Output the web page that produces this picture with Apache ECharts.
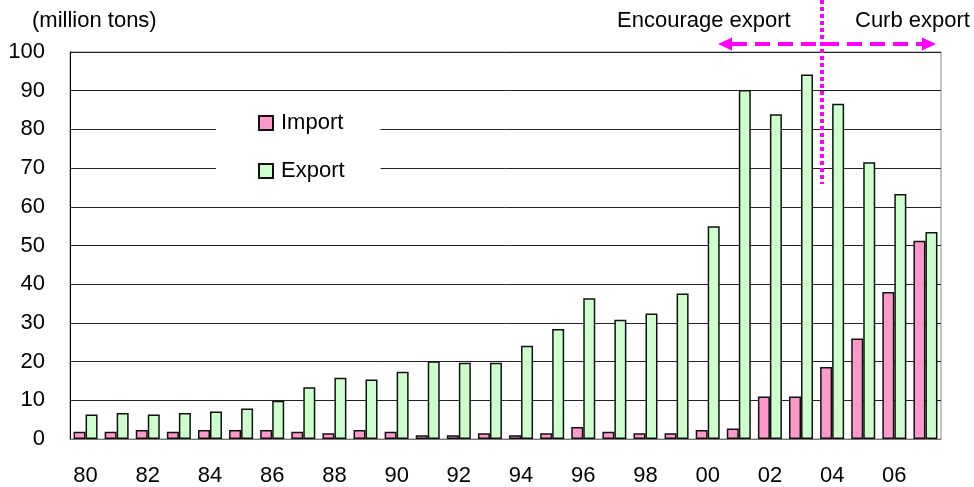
<!DOCTYPE html>
<html>
<head>
<meta charset="utf-8">
<script src="https://cdn.jsdelivr.net/npm/echarts@6/dist/echarts.min.js"></script>
<style>
  html, body { margin: 0; padding: 0; background: #fff; }
  #chart { width: 974px; height: 487px; }
</style>
</head>
<body>
<div id="chart"></div>
<script>
// Years 1980-2007, labelled by two-digit year
const years = ['80','81','82','83','84','85','86','87','88','89','90','91','92','93',
               '94','95','96','97','98','99','00','01','02','03','04','05','06','07'];

// Million tons per year
const importTons = [1.9, 1.9, 2.3, 1.9, 2.3, 2.3, 2.3, 1.9, 1.5, 2.3, 1.9, 1.0, 1.0, 1.5,
                    1.0, 1.5, 3.1, 1.9, 1.5, 1.5, 2.3, 2.7, 11.0, 11.0, 18.6, 26.0, 38.0, 51.2];
const exportTons = [6.3, 6.7, 6.3, 6.7, 7.1, 7.9, 9.9, 13.4, 15.8, 15.4, 17.4, 20.1, 19.7, 19.7,
                    24.1, 28.4, 36.4, 30.8, 32.4, 37.6, 55.0, 90.2, 83.9, 94.2, 86.6, 71.5, 63.3, 53.5];

const yTicks = [0, 100, 10]; // min, max, step

const FONT = '"Liberation Sans", Arial, sans-serif';
const MAGENTA = '#FF00FF';

const chart = echarts.init(document.getElementById('chart'), null, { renderer: 'canvas' });

chart.setOption({
  animation: false,
  backgroundColor: '#fff',
  textStyle: { fontFamily: FONT },
  grid: {
    left: 70, right: 33, top: 52, bottom: 46,
    show: true, borderColor: '#888', borderWidth: 1, backgroundColor: 'transparent'
  },
  legend: {
    orient: 'vertical',
    left: 216, top: 100,
    padding: [12, 36, 12, 42],
    backgroundColor: '#fff',
    itemWidth: 14, itemHeight: 14, itemGap: 26,
    icon: 'rect',
    textStyle: { fontFamily: FONT, fontSize: 22, color: '#000', lineHeight: 21, padding: [0, 0, 0, 3] },
    data: ['Import', 'Export']
  },
  xAxis: {
    type: 'category',
    data: years,
    boundaryGap: true,
    axisLine: { lineStyle: { color: '#777', width: 1 } },
    axisTick: { inside: true, length: 5, interval: 0, lineStyle: { color: '#888' } },
    axisLabel: { interval: 1, margin: 26, fontSize: 22, color: '#000', fontFamily: FONT }
  },
  yAxis: {
    type: 'value',
    min: yTicks[0], max: yTicks[1], interval: yTicks[2],
    axisLine: { show: true, lineStyle: { color: '#000', width: 1 } },
    axisTick: { show: false },
    axisLabel: { margin: 25, fontSize: 22, color: '#000', fontFamily: FONT },
    splitLine: { lineStyle: { color: '#222', width: 1 } }
  },
  series: [
    {
      name: 'Import', type: 'bar', data: importTons,
      barWidth: 12, barGap: '0%',
      itemStyle: { color: '#FF99CC', borderColor: '#111', borderWidth: 1.5 }
    },
    {
      name: 'Export', type: 'bar', data: exportTons,
      barWidth: 12, barGap: '0%',
      itemStyle: { color: '#CCFFCC', borderColor: '#111', borderWidth: 1.5 }
    }
  ],
  graphic: [
    { type: 'text', left: 32, top: 10,
      style: { text: '(million tons)', font: '22px ' + FONT, fill: '#000' } },
    { type: 'text', left: 617, top: 10,
      style: { text: 'Encourage export', font: '22px ' + FONT, fill: '#000' } },
    { type: 'text', left: 855, top: 10,
      style: { text: 'Curb export', font: '22px ' + FONT, fill: '#000' } },
    // policy switch marker
    { type: 'line', z: 100,
      shape: { x1: 822, y1: 0, x2: 822, y2: 184 },
      style: { stroke: MAGENTA, lineWidth: 4, lineDash: [4, 3] } },
    // double-headed dashed arrow
    { type: 'line', z: 100,
      shape: { x1: 732, y1: 44, x2: 922, y2: 44 },
      style: { stroke: MAGENTA, lineWidth: 4, lineDash: [15, 8] } },
    { type: 'polygon', z: 100,
      shape: { points: [[718, 44], [732, 37.5], [732, 50.5]] },
      style: { fill: MAGENTA } },
    { type: 'polygon', z: 100,
      shape: { points: [[936, 44], [922, 37.5], [922, 50.5]] },
      style: { fill: MAGENTA } }
  ]
});
</script>
</body>
</html>
